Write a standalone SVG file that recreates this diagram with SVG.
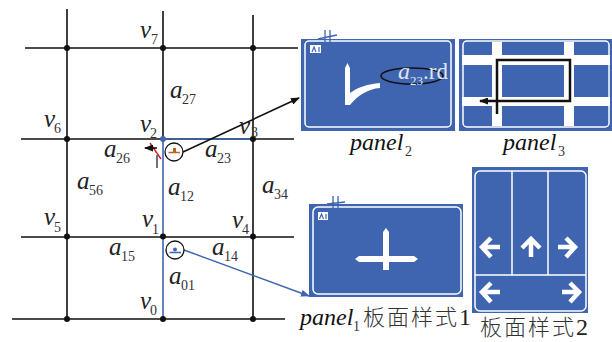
<svg xmlns="http://www.w3.org/2000/svg" width="612" height="342" viewBox="0 0 612 342">
<style>
.road{stroke:#111;stroke-width:1.6;fill:none}
.blue{stroke:#3f64b0;stroke-width:1.6;fill:none}
.dot{fill:#111}
.m{font-family:"Liberation Serif",serif;font-style:italic;font-size:25px;fill:#222}
.s{font-family:"Liberation Serif",serif;font-size:14px;fill:#333}
.cap{font-family:"Liberation Serif",serif;font-style:italic;font-size:24px;fill:#111}
.cjk{font-family:"Noto Sans CJK SC",sans-serif;font-size:22px;font-weight:300;fill:#333;letter-spacing:2px}
.num{font-family:"Liberation Serif",serif;font-size:24px;fill:#222}
.panel{fill:#3f64b0}
.edge{fill:none;stroke:#fff;stroke-width:1.500}
.w{fill:#fff;stroke:none}
.bk{fill:none;stroke:#111;stroke-width:1.600}
.ant{stroke:#3f64b0;stroke-width:1.300;fill:none}
.over{font-family:"Liberation Serif",serif;fill:#dfe5f2}
</style>
<defs>
<marker id="ab" markerWidth="9" markerHeight="7" refX="8" refY="3.500" orient="auto" markerUnits="userSpaceOnUse"><path d="M0 0L9 3.500L0 7z" fill="#111"/></marker>
<marker id="ub" markerWidth="9" markerHeight="7" refX="8" refY="3.500" orient="auto" markerUnits="userSpaceOnUse"><path d="M0 0L9 3.500L0 7z" fill="#3f64b0"/></marker>
</defs>
<g id="connectors">
<path class="road" d="M67 9V319M163 11V139M253 15V319M25 48H298M21 139H294M21 237H294M12 319H285"/>
<path class="blue" d="M163 139V319M163 139H253"/>
<path d="M157 155V168" stroke="#444" stroke-width="1.500"/>
<path d="M150 143L161 159" stroke="#d0242c" stroke-width="1.400"/>
<path d="M157 148H145" class="bk" marker-end="url(#ab)"/>
<path d="M183 152L299 98" class="bk" marker-end="url(#ab)"/>
<path d="M184 250L309 296" stroke="#3f64b0" stroke-width="1.400" fill="none" marker-end="url(#ub)"/>
</g>
<g id="nodes">
<g class="dot"><circle cx="67" cy="48" r="3"/><circle cx="163" cy="48" r="3"/><circle cx="253" cy="48" r="3"/><circle cx="67" cy="139" r="3"/><circle cx="253" cy="139" r="3"/><circle cx="67" cy="236.500" r="3"/><circle cx="163" cy="236.500" r="3"/><circle cx="253" cy="236.500" r="3"/><circle cx="67" cy="319" r="3"/><circle cx="163" cy="319" r="3"/><circle cx="253" cy="319" r="3"/></g>
<circle cx="163" cy="139" r="3" fill="#3f64b0"/>
</g>
<g id="detector-v2"><circle cx="174" cy="152" r="9" fill="#fff" stroke="#111" stroke-width="1.300"/><path d="M168.500 152.500H180" stroke="#b5651d" stroke-width="1.500"/><path d="M173 152V148H176V152z" fill="#b5651d"/></g>
<g id="detector-v1"><circle cx="175" cy="250" r="9" fill="#fff" stroke="#111" stroke-width="1.300"/><path d="M169.500 252.500H181" stroke="#3f64b0" stroke-width="1.500"/><circle cx="175" cy="249.500" r="2" fill="#3f64b0"/></g>
<g id="labels">
<text class="m" x="140" y="38">v</text><text class="s" x="151" y="44">7</text>
<text class="m" x="44" y="127">v</text><text class="s" x="54" y="133">6</text>
<text class="m" x="140" y="132">v</text><text class="s" x="150" y="138">2</text>
<text class="m" x="239" y="134">v</text><text class="s" x="251" y="137">3</text>
<text class="m" x="170" y="98">a</text><text class="s" x="182" y="104">27</text>
<text class="m" x="104" y="157">a</text><text class="s" x="116" y="163">26</text>
<text class="m" x="205" y="157">a</text><text class="s" x="217" y="163">23</text>
<text class="m" x="77" y="189">a</text><text class="s" x="89" y="195">56</text>
<text class="m" x="168" y="195">a</text><text class="s" x="180" y="201">12</text>
<text class="m" x="262" y="193">a</text><text class="s" x="274" y="199">34</text>
<text class="m" x="44" y="225">v</text><text class="s" x="54" y="232">5</text>
<text class="m" x="142" y="227">v</text><text class="s" x="152" y="234">1</text>
<text class="m" x="232" y="228">v</text><text class="s" x="242" y="234">4</text>
<text class="m" x="109" y="255">a</text><text class="s" x="121" y="261">15</text>
<text class="m" x="212" y="255">a</text><text class="s" x="224" y="261">14</text>
<text class="m" x="169" y="284">a</text><text class="s" x="181" y="290">01</text>
<text class="m" x="140" y="309">v</text><text class="s" x="150" y="315">0</text>
</g>
<g id="panel2">
<rect class="panel" x="301" y="39" width="154" height="92"/>
<rect class="edge" x="305" y="41" width="146" height="86" rx="4"/>
<path class="ant" d="M325 30V42M330 30V42M318 39L337 35"/>
<rect x="310" y="45" width="11" height="8" fill="#fff"/>
<path d="M312 52L314 47L316 52M319 47V52" stroke="#3f64b0" stroke-width="1.200" fill="none"/>
<path class="w" d="M345 105V68L347.500 63L350 68V93C358 87 368 84 380 83L380 88C368 89 358 95 350 105z"/>
<ellipse cx="412" cy="76" rx="31" ry="8" fill="none" stroke="#111" stroke-width="1.500"/>
<text class="over" x="398" y="79" font-style="italic" font-size="24">a</text>
<text class="over" x="410" y="85" font-size="13">23</text>
<text class="over" x="423" y="79" font-size="23">.rd</text>
</g>
<g id="panel3">
<rect class="panel" x="459" y="39" width="153" height="92"/>
<rect class="edge" x="463" y="41" width="146" height="86" rx="4"/>
<path class="w" d="M462 55H610V65H462zM462 97H610V106H462zM492 42H502V126H492zM564 42H574V126H564z"/>
<path d="M497 114V60H570V101H480" fill="none" stroke="#111" stroke-width="2.500" marker-end="url(#ab)"/>
</g>
<g id="panel1">
<rect class="panel" x="309" y="204" width="154" height="93"/>
<rect class="edge" x="313" y="207" width="148" height="87" rx="5"/>
<path class="ant" d="M333 196V208M338 196V208M327 204L345 202"/>
<rect x="318" y="212" width="10" height="8" fill="#fff"/>
<path d="M319.500 219L321.500 214L323.500 219M326 214V219" stroke="#3f64b0" stroke-width="1.200" fill="none"/>
<path class="w" d="M383 270V256H359L355 259L359 262H383V270H389V262H414L418 259L414 256H389V232L386 228L383 232V256z"/>
</g>
<g id="panel4">
<rect class="panel" x="472" y="167" width="116" height="146"/>
<rect class="edge" x="475" y="171" width="111" height="140" rx="5"/>
<path class="edge" d="M512 171V275M548 171V275M475 275H586"/>
<g fill="none" stroke="#fff" stroke-width="4.500">
<path d="M500 247H484M491 238L482 247L491 257"/>
<path d="M531 257V240M522 248L531 239L540 248"/>
<path d="M558 247H574M566 238L575 247L566 257"/>
<path d="M500 292H484M491 283L482 292L491 302"/>
<path d="M562 292H578M570 283L579 292L570 302"/>
</g>
</g>
<g id="captions">
<text class="cap" x="350" y="150">panel</text><text class="s" x="405" y="156">2</text>
<text class="cap" x="503" y="150">panel</text><text class="s" x="558" y="156">3</text>
<text class="cap" x="300" y="325">panel</text><text class="s" x="353" y="331">1</text>
<text class="cjk" x="363" y="325">板面样式</text><text class="num" x="459" y="325">1</text>
<text class="cjk" x="480" y="335">板面样式</text><text class="num" x="576" y="335">2</text>
</g>
</svg>
